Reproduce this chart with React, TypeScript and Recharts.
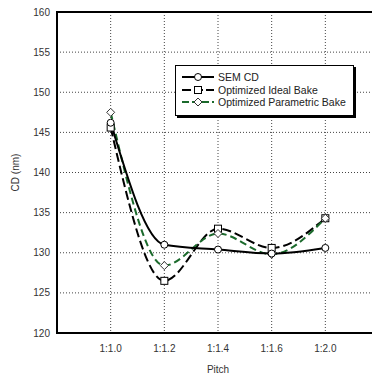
import React from "react";
import {
  CartesianGrid,
  Line,
  LineChart,
  ReferenceArea,
  XAxis,
  YAxis,
} from "recharts";

const pitches = ["1:1.0", "1:1.2", "1:1.4", "1:1.6", "1:2.0"];
const semCd = [146.2, 131.0, 130.4, 129.9, 130.6];
const idealBake = [145.6, 126.5, 133.0, 130.6, 134.3];
const parametricBake = [147.5, 128.4, 132.4, 129.8, 134.3];
const yTicks = [120, 125, 130, 135, 140, 145, 150, 155, 160];

const data = pitches.map((p, i) => ({
  x: i,
  pitch: p,
  sem: semCd[i],
  ideal: idealBake[i],
  param: parametricBake[i],
}));

const FONT = "'Liberation Sans', Arial, sans-serif";
const GREEN = "#1b6a2c";

const SquareDot = (props: any) => {
  const { cx, cy } = props;
  if (cx == null || cy == null) return null;
  return (
    <rect x={cx - 3.5} y={cy - 3.5} width={7} height={7} fill="#fff" stroke="#000" strokeWidth={1} />
  );
};

const DiamondDot = (props: any) => {
  const { cx, cy } = props;
  if (cx == null || cy == null) return null;
  return (
    <path
      d={`M${cx},${cy - 4}L${cx + 4},${cy}L${cx},${cy + 4}L${cx - 4},${cy}Z`}
      fill="#fff"
      stroke="#333"
      strokeWidth={1}
    />
  );
};

const legendItems = [
  { label: "SEM CD", color: "#000", dash: undefined, marker: "circle" },
  { label: "Optimized Ideal Bake", color: "#000", dash: "9 3", marker: "square" },
  { label: "Optimized Parametric Bake", color: GREEN, dash: "7 3", marker: "diamond" },
];

// legend drawn as an overlay so it doesn't shrink the plot area
const LegendBox = () => (
  <div
    style={{
      position: "absolute",
      left: 175,
      top: 65,
      background: "#fff",
      border: "1px solid #000",
      boxShadow: "2px 2px 0 #000",
      padding: "5px 7px 6px 5px",
      fontFamily: FONT,
      fontSize: 10.5,
      color: "#222",
      lineHeight: "12.5px",
    }}
  >
    {legendItems.map((it) => (
      <div key={it.label} style={{ display: "flex", alignItems: "center", whiteSpace: "nowrap" }}>
        <svg width={34} height={12} style={{ marginRight: 3 }}>
          <line x1={1} y1={6} x2={33} y2={6} stroke={it.color} strokeWidth={2} strokeDasharray={it.dash} />
          {it.marker === "circle" && <circle cx={17} cy={6} r={3.5} fill="#fff" stroke="#000" />}
          {it.marker === "square" && <rect x={13.5} y={2.5} width={7} height={7} fill="#fff" stroke="#000" />}
          {it.marker === "diamond" && <path d="M17,2L21,6L17,10L13,6Z" fill="#fff" stroke="#333" />}
        </svg>
        <span>{it.label}</span>
      </div>
    ))}
  </div>
);

export default function App() {
  return (
    <div
      style={{
        position: "absolute",
        left: 0,
        top: 0,
        width: 372,
        height: 377,
        overflow: "hidden",
        background: "#fff",
      }}
    >
      <LineChart
        width={386}
        height={377}
        data={data}
        margin={{ top: 12, right: 7, left: 0, bottom: 0 }}
      >
        <CartesianGrid stroke="#444" strokeDasharray="1 2" strokeWidth={1} />
        <XAxis
          dataKey="x"
          type="number"
          domain={[-1, 5]}
          ticks={[0, 1, 2, 3, 4]}
          tickFormatter={(v: number) => pitches[v]}
          tickLine={false}
          axisLine={false}
          tickSize={0}
          tickMargin={12}
          height={44}
          tick={{ fontSize: 10, fill: "#333", fontFamily: FONT }}
          label={{
            value: "Pitch",
            position: "insideBottom",
            offset: 4,
            fontSize: 10,
            fill: "#333",
            fontFamily: FONT,
          }}
        />
        <YAxis
          type="number"
          domain={[120, 160]}
          ticks={yTicks}
          width={57}
          tickLine={false}
          axisLine={false}
          tickSize={4}
          tickMargin={3}
          tick={{ fontSize: 10, fill: "#333", fontFamily: FONT }}
          label={{
            value: "CD (nm)",
            angle: -90,
            position: "insideLeft",
            offset: 15,
            fontSize: 10,
            fill: "#333",
            fontFamily: FONT,
            style: { textAnchor: "middle" },
          }}
        />
        <ReferenceArea
          x1={-1}
          x2={5}
          y1={120}
          y2={160}
          fill="none"
          stroke="#000"
          strokeWidth={2}
          ifOverflow="visible"
        />
        <Line
          type="monotone"
          dataKey="ideal"
          stroke="#000"
          strokeWidth={2}
          strokeDasharray="9 4"
          dot={<SquareDot />}
          activeDot={false}
          isAnimationActive={false}
        />
        <Line
          type="monotone"
          dataKey="param"
          stroke={GREEN}
          strokeWidth={2}
          strokeDasharray="7 4"
          dot={<DiamondDot />}
          activeDot={false}
          isAnimationActive={false}
        />
        <Line
          type="monotone"
          dataKey="sem"
          stroke="#000"
          strokeWidth={2}
          dot={{ r: 3.5, fill: "#fff", stroke: "#000", strokeWidth: 1 }}
          activeDot={false}
          isAnimationActive={false}
        />
      </LineChart>
      <LegendBox />
    </div>
  );
}
